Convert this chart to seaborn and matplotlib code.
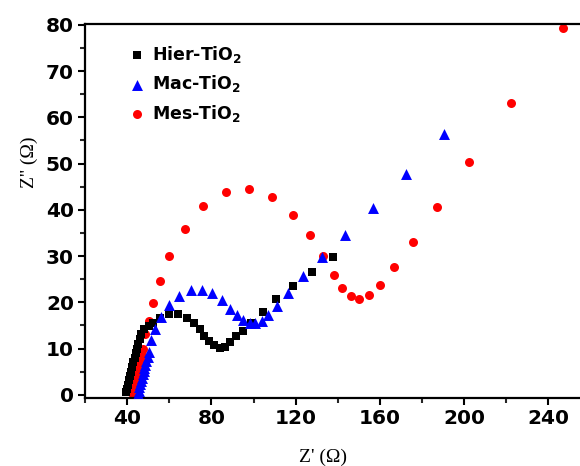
import pandas as pd
import matplotlib
matplotlib.use('Agg')
import matplotlib.pyplot as plt
import seaborn as sns
from matplotlib.ticker import MultipleLocator

# Dati (Z' e Z'' in ohm)
hier_x = [39.5, 40.0, 40.5, 41.0, 41.5, 42.0, 42.5, 43.0, 43.5, 44.0,
          44.6, 45.2, 45.9, 46.6, 48.2, 50.2, 52.5, 55.8, 59.7, 64.1,
          68.5, 71.7, 74.4, 76.6, 78.9, 81.2, 83.9, 86.3, 89.0, 91.9,
          95.0, 99.0, 104.3, 110.9, 118.6, 127.6, 137.5]
hier_y = [0.5, 1.3, 2.2, 3.1, 4.0, 5.0, 6.0, 7.0, 8.0, 9.0,
          10.0, 11.0, 12.1, 13.2, 14.2, 14.9, 15.6, 16.5, 17.4, 17.4,
          16.7, 15.6, 14.2, 12.8, 11.6, 10.7, 10.2, 10.3, 11.3, 12.6,
          13.7, 15.5, 18.0, 20.8, 23.6, 26.6, 29.9]

mac_x = [45.0, 45.4, 45.8, 46.2, 46.6, 47.0, 47.4, 47.8, 48.2, 48.6,
         49.1, 49.7, 50.5, 51.4, 53.1, 56.2, 59.8, 64.4, 70.1, 75.5,
         80.5, 85.0, 88.7, 92.2, 95.0, 98.2, 100.6, 103.8, 107.0, 111.0,
         116.5, 123.6, 132.7, 143.6, 156.5, 172.2, 190.6]
mac_y = [0.2, 0.9, 1.6, 2.3, 3.0, 3.7, 4.4, 5.1, 5.8, 6.5,
         7.3, 8.2, 9.2, 11.9, 14.3, 16.8, 19.5, 21.3, 22.6, 22.7,
         21.9, 20.4, 18.6, 17.3, 16.1, 15.6, 15.6, 15.9, 17.3, 19.1,
         21.9, 25.6, 29.7, 34.6, 40.4, 47.8, 56.4]

mes_x = [42.5, 42.9, 43.3, 43.7, 44.1, 44.5, 44.9, 45.3, 45.8, 46.3,
         46.9, 47.5, 48.7, 50.3, 52.4, 55.7, 60.1, 67.3, 76.2, 86.8,
         97.9, 109.0, 118.9, 126.8, 133.1, 138.1, 142.1, 146.1, 150.1, 154.6,
         160.0, 166.7, 175.7, 187.0, 202.2, 222.2, 246.8]
mes_y = [0.3, 1.1, 1.9, 2.7, 3.5, 4.3, 5.1, 5.9, 6.8, 7.7,
         8.7, 9.8, 13.1, 16.0, 19.8, 24.7, 30.1, 35.9, 40.8, 43.9,
         44.5, 42.7, 38.9, 34.5, 30.1, 26.0, 23.0, 21.3, 20.7, 21.6,
         23.7, 27.6, 33.0, 40.6, 50.4, 63.1, 79.4]

sns.set_style('ticks')
plt.rcParams['font.family'] = ['DejaVu Sans']
plt.rcParams['mathtext.fontset'] = 'dejavusans'
plt.rcParams['mathtext.default'] = 'bf'
plt.rcParams['text.color'] = 'black'
plt.rcParams['axes.labelcolor'] = 'black'

fig = plt.figure(figsize=(5.8, 4.66), dpi=100)
ax = fig.add_axes([0.1466, 0.146, 0.8534, 0.8025])

# Grafico
sns.scatterplot(x=hier_x, y=hier_y, marker='s', s=36, color='#000000',
                linewidth=0, label='Hier-TiO$_2$', ax=ax, zorder=3)
sns.scatterplot(x=mac_x, y=mac_y, marker='^', s=62, color='#0000ff',
                linewidth=0, label='Mac-TiO$_2$', ax=ax, zorder=4)
sns.scatterplot(x=mes_x, y=mes_y, marker='o', s=42, color='#ff0000',
                linewidth=0, label='Mes-TiO$_2$', ax=ax, zorder=2)

ax.set_xlim(20, 255)
ax.set_ylim(-0.7, 80.2)
ax.xaxis.set_major_locator(MultipleLocator(40))
ax.xaxis.set_minor_locator(MultipleLocator(20))
ax.yaxis.set_major_locator(MultipleLocator(10))
ax.yaxis.set_minor_locator(MultipleLocator(5))
ax.set_xticks(range(40, 241, 40))

for side in ['left', 'bottom', 'top']:
    ax.spines[side].set_linewidth(1.6)
    ax.spines[side].set_color('black')
ax.spines['right'].set_visible(False)

ax.tick_params(which='major', direction='out', length=5, width=1.5,
               labelsize=14.5, colors='black', pad=3)
ax.tick_params(which='minor', direction='out', length=3.5, width=1.5)
ax.tick_params(top=False, right=False, which='both')
for lab in ax.get_xticklabels() + ax.get_yticklabels():
    lab.set_fontweight('bold')

ax.set_xlabel("Z' (Ω)", family='Liberation Serif', fontsize=14)
ax.set_ylabel("Z'' (Ω)", family='Liberation Serif', fontsize=14)
ax.xaxis.set_label_coords(0.48, -0.135)
ax.yaxis.set_label_coords(-0.095, 0.63)

leg = ax.legend(loc='upper left', bbox_to_anchor=(0.068, 0.966), frameon=False,
                prop={'family': 'DejaVu Sans', 'weight': 'bold', 'size': 12.5},
                handletextpad=0.2, labelspacing=0.5, borderaxespad=0,
                handlelength=1.3, labelcolor='black')

plt.savefig('out.png', dpi=100)
